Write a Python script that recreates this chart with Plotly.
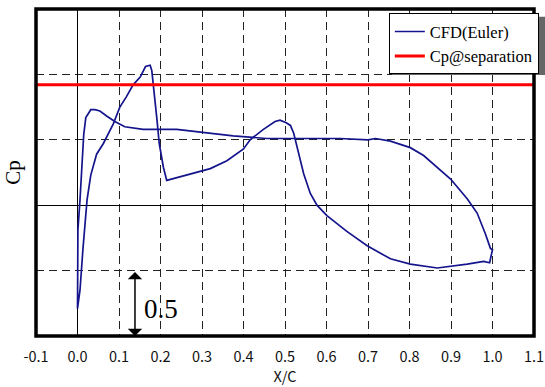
import plotly.graph_objects as go

# Branch A: stagnation point -> suction peak near LE -> plateau -> trailing edge
surface_a_x = [0.0, 0.0, 0.001, 0.006, 0.011, 0.015, 0.020, 0.032, 0.042, 0.054, 0.071, 0.090, 0.114,
               0.158, 0.239, 0.295, 0.375, 0.456, 0.537, 0.633, 0.700, 0.718, 0.754, 0.802, 0.834,
               0.875, 0.899, 0.939, 0.963, 0.983, 0.995, 1.0]
surface_a_cp = [0.79, 0.52, 0.19, -0.04, -0.35, -0.54, -0.67, -0.73, -0.73, -0.72, -0.68, -0.64, -0.60,
                -0.58, -0.58, -0.56, -0.53, -0.51, -0.51, -0.51, -0.50, -0.51, -0.49, -0.44, -0.38,
                -0.27, -0.20, -0.05, 0.06, 0.22, 0.33, 0.34]

# Branch B: trailing edge -> shock / peak -> sharp drop -> back to stagnation point
surface_b_x = [0.993, 0.979, 0.939, 0.867, 0.802, 0.754, 0.698, 0.649, 0.601, 0.577, 0.561, 0.545,
               0.533, 0.521, 0.513, 0.503, 0.488, 0.476, 0.448, 0.416, 0.400, 0.360, 0.320, 0.271,
               0.215, 0.207, 0.197, 0.191, 0.184, 0.179, 0.175, 0.164, 0.151, 0.134, 0.118, 0.102,
               0.086, 0.062, 0.046, 0.032, 0.023, 0.018, 0.013, 0.006, 0.0]
surface_b_cp = [0.44, 0.43, 0.45, 0.48, 0.45, 0.41, 0.31, 0.20, 0.08, 0.0, -0.09, -0.24,
                -0.39, -0.55, -0.61, -0.63, -0.65, -0.64, -0.58, -0.50, -0.43, -0.34, -0.28, -0.24,
                -0.19, -0.29, -0.47, -0.67, -0.91, -1.03, -1.07, -1.06, -0.98, -0.92, -0.83, -0.75,
                -0.62, -0.47, -0.39, -0.23, -0.04, 0.19, 0.34, 0.65, 0.79]

separation_cp = -0.92
x_range = [-0.1, 1.1]
cp_range = [1.0, -1.5]
x_tick_values = [-0.1, 0.0, 0.1, 0.2, 0.3, 0.4, 0.5, 0.6, 0.7, 0.8, 0.9, 1.0, 1.1]
x_tick_labels = ["-0.1", "0.0", "0.1", "0.2", "0.3", "0.4", "0.5", "0.6", "0.7", "0.8", "0.9", "1.0", "1.1"]
scale_bar_x = 0.1385
scale_bar_cp = [0.5, 1.0]
scale_bar_label = "0.5"

cfd_x = surface_a_x + surface_b_x
cfd_cp = surface_a_cp + surface_b_cp

fig = go.Figure()
fig.add_trace(go.Scatter(x=cfd_x, y=cfd_cp, mode="lines", name="CFD(Euler)",
                         line=dict(color="#14148c", width=1.7)))
fig.add_trace(go.Scatter(x=x_range, y=[separation_cp, separation_cp], mode="lines",
                         name="Cp@separation", line=dict(color="#ff0000", width=3)))

# scale bar arrow
fig.add_annotation(x=scale_bar_x, y=scale_bar_cp[1], ax=scale_bar_x, ay=scale_bar_cp[0],
                   xref="x", yref="y", axref="x", ayref="y", text="", showarrow=True,
                   arrowhead=1, arrowside="end+start", arrowsize=1.6, arrowwidth=1.5,
                   arrowcolor="black", standoff=0, startstandoff=0)
fig.add_annotation(x=scale_bar_x + 0.018, y=0.79, xref="x", yref="y", text=scale_bar_label,
                   showarrow=False, xanchor="left", yanchor="middle",
                   font=dict(family="Liberation Serif", size=27, color="black"))

# legend shadow
fig.add_shape(type="rect", xref="paper", yref="paper", x0=0.715, x1=1.05, y0=0.798, y1=0.976,
              fillcolor="#666666", line=dict(width=0), layer="above")

# frame
fig.add_shape(type="rect", xref="paper", yref="paper", x0=0, x1=1, y0=0, y1=1,
              line=dict(color="black", width=3.5), layer="above")

fig.update_layout(
    width=545, height=387,
    margin=dict(l=36, r=11, t=9, b=51, autoexpand=False),
    paper_bgcolor="white", plot_bgcolor="white",
    showlegend=True,
    legend=dict(x=0.7085, y=0.987, xanchor="left", yanchor="top",
                bgcolor="white", bordercolor="black", borderwidth=1,
                font=dict(family="Liberation Serif", size=16.5, color="black"),
                tracegroupgap=0, itemwidth=30),
)
fig.update_xaxes(range=x_range, tickvals=x_tick_values, ticktext=x_tick_labels,
                 automargin=False,
                 showgrid=True, gridcolor="#222222", gridwidth=1, griddash="8px,5px",
                 zeroline=True, zerolinecolor="black", zerolinewidth=1,
                 ticks="", showline=False, ticklabelstandoff=10,
                 tickfont=dict(family="Noto Sans CJK JP", size=14.5, color="#111111"),
                 title=dict(text="X/C", font=dict(family="Noto Sans CJK JP", size=14.5, color="#111111"),
                            standoff=6))
fig.update_yaxes(range=cp_range, dtick=0.5, tick0=0, automargin=False,
                 showgrid=True, gridcolor="#222222", gridwidth=1, griddash="8px,5px",
                 zeroline=True, zerolinecolor="black", zerolinewidth=1,
                 showticklabels=False, ticks="", showline=False,
                 title=dict(text="Cp", font=dict(family="Liberation Serif", size=21, color="black"),
                            standoff=8))

fig.write_html("out.html")
